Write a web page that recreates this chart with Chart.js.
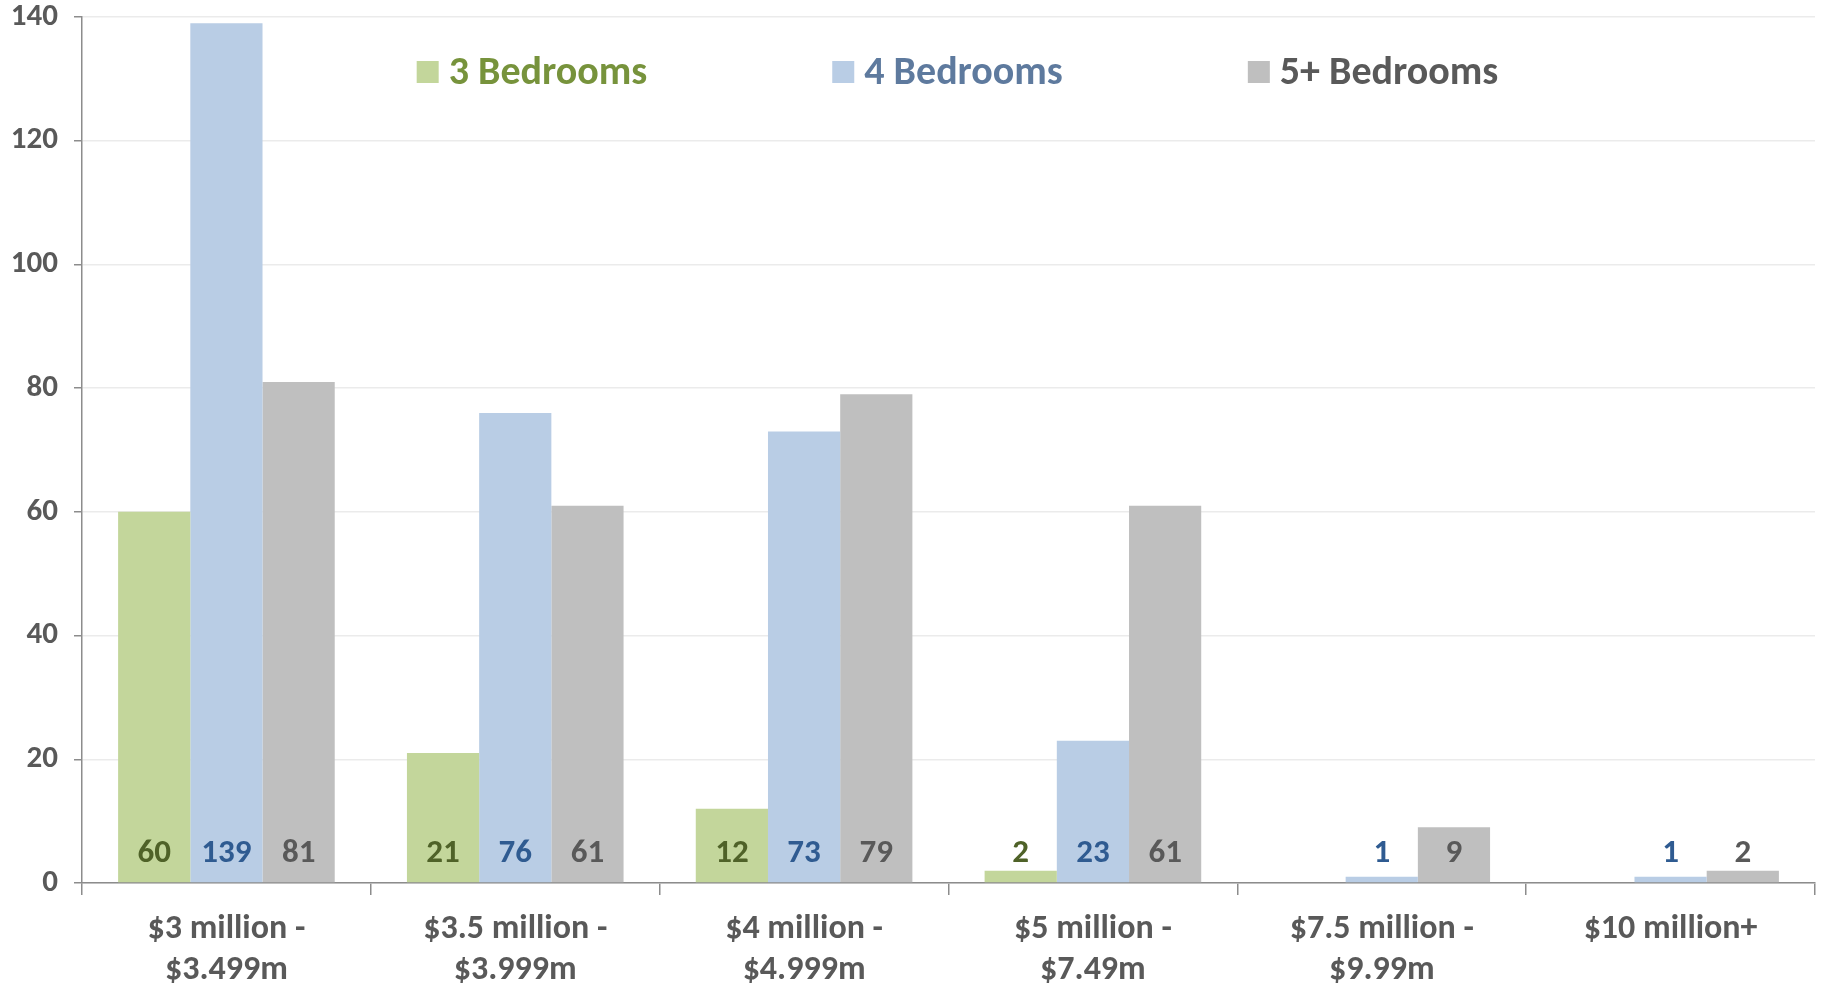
<!DOCTYPE html>
<html>
<head>
<meta charset="utf-8">
<script src="https://cdn.jsdelivr.net/npm/chart.js@4.4.1/dist/chart.umd.min.js"></script>
<style>
  html, body { margin: 0; padding: 0; background: #fff; }
</style>
</head>
<body>
<canvas id="myChart" width="1822" height="986"></canvas>
<script>
// datos
const categories = [
  ["$3 million -", "$3.499m"],
  ["$3.5 million -", "$3.999m"],
  ["$4 million -", "$4.999m"],
  ["$5 million -", "$7.49m"],
  ["$7.5 million -", "$9.99m"],
  "$10 million+"
];
const seriesNames = ["3 Bedrooms", "4 Bedrooms", "5+ Bedrooms"];
const beds3 = [60, 21, 12, 2, 0, 0];
const beds4 = [139, 76, 73, 23, 1, 1];
const beds5 = [81, 61, 79, 61, 9, 2];
const yTicks = [0, 20, 40, 60, 80, 100, 120, 140];

// estilos
const FONT = "Carlito, 'Liberation Sans Narrow', 'DejaVu Sans Condensed', sans-serif";
const AXIS = "#8C8C8C";
const barColors = ["#C3D69B", "#B9CDE5", "#BFBFBF"];
const legendColors = ["#77933C", "#5E7A9E", "#595959"];
const valueColors = ["#4F6228", "#2F5B91", "#595959"];

const ctx = document.getElementById("myChart");

// leyenda dentro del area del grafico
const legendPlugin = {
  id: "topLegend",
  afterDraw(chart) {
    const c = chart.ctx;
    const area = chart.chartArea;
    c.save();
    c.font = "bold 40px " + FONT;
    c.textBaseline = "middle";
    c.textAlign = "left";
    const box = 22, gap = 10, spacing = 185;
    const widths = chart.data.datasets.map(d => box + gap + c.measureText(d.label).width);
    const total = widths.reduce((a, b) => a + b, 0) + spacing * (widths.length - 1);
    let x = (area.left + area.right) / 2 + 9 - total / 2;
    const y = 72;
    chart.data.datasets.forEach((d, i) => {
      c.fillStyle = d.backgroundColor;
      c.fillRect(x, y - box / 2, box, box);
      c.fillStyle = legendColors[i];
      c.fillText(d.label, x + box + gap, y + 2);
      x += widths[i] + spacing;
    });
    c.restore();
  }
};

// valores abajo de cada barra
const valuePlugin = {
  id: "baseValues",
  afterDatasetsDraw(chart) {
    const c = chart.ctx;
    const base = chart.scales.y.getPixelForValue(0);
    c.save();
    c.font = "bold 33px " + FONT;
    c.textAlign = "center";
    c.textBaseline = "middle";
    chart.data.datasets.forEach((d, i) => {
      chart.getDatasetMeta(i).data.forEach((bar, j) => {
        if (!d.data[j]) return;
        c.fillStyle = valueColors[i];
        c.fillText(d.data[j], bar.x, base - 29);
      });
    });
    c.restore();
  }
};

new Chart(ctx, {
  type: "bar",
  data: {
    labels: categories,
    datasets: [
      { label: seriesNames[0], data: beds3, backgroundColor: barColors[0] },
      { label: seriesNames[1], data: beds4, backgroundColor: barColors[1] },
      { label: seriesNames[2], data: beds5, backgroundColor: barColors[2] }
    ]
  },
  options: {
    responsive: false,
    animation: false,
    devicePixelRatio: 1,
    layout: { padding: { left: 0, right: 7, top: 0, bottom: 0 } },
    datasets: { bar: { categoryPercentage: 0.75, barPercentage: 1.0, borderWidth: 0 } },
    plugins: {
      legend: { display: false },
      tooltip: { enabled: false }
    },
    scales: {
      x: {
        grid: { display: true, drawOnChartArea: false, offset: true, color: AXIS, tickLength: 12, lineWidth: 1.5 },
        border: { color: AXIS, width: 1.5 },
        ticks: { color: "#595959", font: { family: FONT, size: 34, weight: "bold", lineHeight: 1.2 }, padding: 14, maxRotation: 0, autoSkip: false },
        afterFit(scale) { scale.height = 103; }
      },
      y: {
        min: 0,
        max: 140,
        afterBuildTicks(scale) { scale.ticks = yTicks.map(v => ({ value: v })); },
        grid: { color: "#EBEBEB", tickColor: AXIS, tickLength: 8, lineWidth: 1.5 },
        border: { color: AXIS, width: 1.5 },
        ticks: { color: "#595959", font: { family: FONT, size: 31, weight: "bold" }, padding: 16 },
        afterFit(scale) {
          scale.width = 82;
          scale.paddingTop = 17;
          scale.paddingBottom = 0;
        }
      }
    }
  },
  plugins: [valuePlugin, legendPlugin]
});
</script>
</body>
</html>
